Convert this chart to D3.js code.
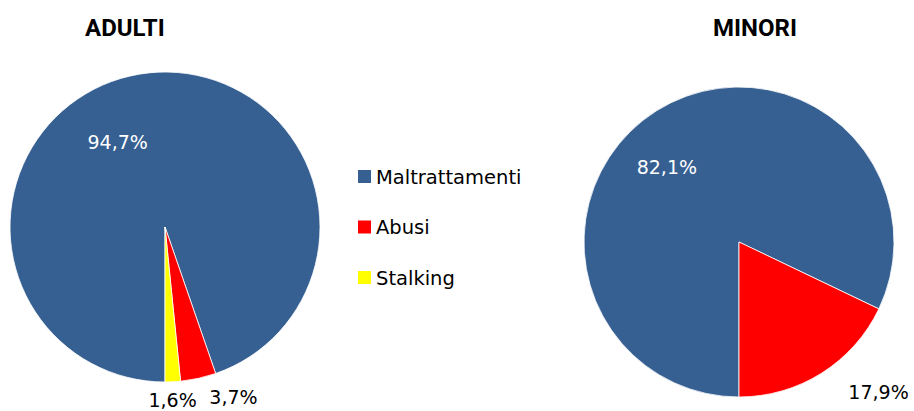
<!DOCTYPE html>
<html>
<head>
<meta charset="utf-8">
<script src="https://cdn.jsdelivr.net/npm/d3@7"></script>
<style>
body { margin: 0; background: #fff; }
text { font-family: "DejaVu Sans", sans-serif; }
.title { font-family: Roboto, sans-serif; font-weight: bold; font-size: 24px; fill: #000; }
.lbl { font-size: 19px; }
.leg { font-size: 19.5px; fill: #000; }
</style>
</head>
<body>
<div></div>
<script>
var w = 914;
var h = 411;

var categories = ["Maltrattamenti", "Abusi", "Stalking"];
var colors = ["#376092", "#ff0000", "#ffff00"];

var adultiValues = [94.7, 3.7, 1.6];
var minoriValues = [82.1, 17.9];

var adultiLabels = ["94,7%", "3,7%", "1,6%"];
var minoriLabels = ["82,1%", "17,9%"];

// where excel dropped the labels: [angle deg, radius factor]
var adultiLabelPos = [[-29, 0.63], [158, 1.18], [177.5, 1.12]];
var minoriLabelPos = [[-44, 0.67], [137, 1.32]];

var svg = d3.select("div").append("svg")
	.attr("width", w)
	.attr("height", h);

var radius = 155;

var pie = d3.pie()
	.sort(null)
	.startAngle(Math.PI)
	.endAngle(Math.PI * 3);

var arc = d3.arc()
	.innerRadius(0)
	.outerRadius(radius);

function drawPie(cx, cy, title, titleX, values, labels, labelPos) {
	var g = svg.append("g")
		.attr("transform", "translate(" + cx + "," + cy + ")");

	g.selectAll("path")
		.data(pie(values))
		.enter()
		.append("path")
		.attr("d", arc)
		.attr("fill", function(d, i) { return colors[i]; })
		.attr("stroke", "#fff")
		.attr("stroke-width", 0.8);

	g.selectAll("text.lbl")
		.data(labels)
		.enter()
		.append("text")
		.attr("class", "lbl")
		.attr("text-anchor", "middle")
		.attr("fill", function(d, i) { return i == 0 ? "#fff" : "#000"; })
		.attr("transform", function(d, i) {
			var p = d3.pointRadial(labelPos[i][0] * Math.PI / 180, labelPos[i][1] * radius);
			return "translate(" + p[0] + "," + (p[1] + 7) + ")";
		})
		.text(function(d) { return d; });

	svg.append("text")
		.attr("class", "title")
		.attr("x", titleX)
		.attr("y", 36)
		.text(title);
}

drawPie(165, 227, "ADULTI", 85, adultiValues, adultiLabels, adultiLabelPos);
drawPie(739, 242, "MINORI", 713, minoriValues, minoriLabels, minoriLabelPos);

// legend
var legendY = d3.scalePoint()
	.domain(categories)
	.range([176.5, 277.5]);

var leg = svg.append("g").attr("class", "legend");

leg.selectAll("rect")
	.data(categories)
	.enter()
	.append("rect")
	.attr("x", 358)
	.attr("y", function(d) { return legendY(d) - 6.5; })
	.attr("width", 13)
	.attr("height", 13)
	.attr("fill", function(d, i) { return colors[i]; });

leg.selectAll("text")
	.data(categories)
	.enter()
	.append("text")
	.attr("class", "leg")
	.attr("x", 376)
	.attr("y", function(d) { return legendY(d) + 7; })
	.text(function(d) { return d; });
</script>
</body>
</html>
